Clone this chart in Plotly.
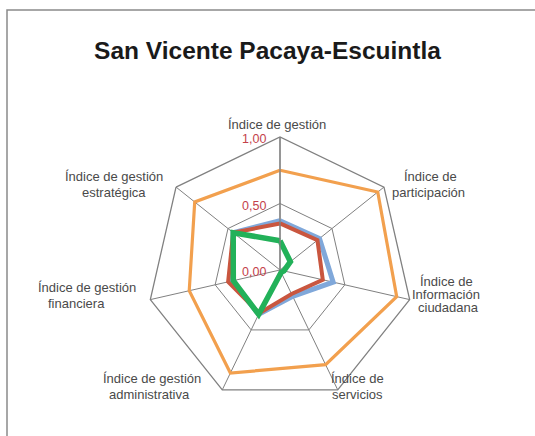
import plotly.graph_objects as go

categories = [
    "Índice de gestión",
    "Índice de participación",
    "Índice de Información ciudadana",
    "Índice de servicios",
    "Índice de gestión administrativa",
    "Índice de gestión financiera",
    "Índice de gestión estratégica",
]

orange_vals = [0.75, 0.94, 0.90, 0.79, 0.86, 0.70, 0.82]
blue_vals = [0.37, 0.38, 0.41, 0.22, 0.37, 0.37, 0.45]
red_vals = [0.35, 0.36, 0.33, 0.20, 0.36, 0.40, 0.45]
green_vals = [0.22, 0.10, 0.03, 0.02, 0.37, 0.36, 0.45]

radial_ticks = [0, 0.5, 1]
radial_ticktext = ["0,00", "0,50", "1,00"]

# wrapped label lines, placed like the original (pixel centre x, centre y)
label_lines = [
    ("Índice de gestión", 277, 124),
    ("Índice de", 430, 177), ("participación", 428, 193),
    ("Índice de", 446, 281), ("Información", 446, 294), ("ciudadana", 448, 307),
    ("Índice de", 357, 378), ("servicios", 357, 394),
    ("Índice de gestión", 152, 378), ("administrativa", 149, 394),
    ("Índice de gestión", 87, 287), ("financiera", 76, 303),
    ("Índice de gestión", 114, 177), ("estratégica", 114, 193),
]

series = [
    ("Máximo", orange_vals, "#F2A04E", 3.2),
    ("Promedio", blue_vals, "#80A8DA", 5),
    ("Departamento", red_vals, "#C9563F", 4),
    ("Municipio", green_vals, "#22B159", 5.5),
]

W, H = 535, 436
cx, cy, R = 280, 270, 133

fig = go.Figure()
for name, vals, color, w in series:
    fig.add_trace(go.Scatterpolar(
        r=vals + vals[:1],
        theta=categories + categories[:1],
        mode="lines",
        name=name,
        line=dict(color=color, width=w),
    ))

annotations = []
for txt, x, y in label_lines:
    annotations.append(dict(text=txt, x=x / W, y=1 - y / H, xref="paper", yref="paper",
                            xanchor="center", yanchor="middle", showarrow=False,
                            font=dict(size=13, color="#4a4a4a")))
# radial tick labels, right-aligned left of the vertical spoke
for v, t in zip(radial_ticks, radial_ticktext):
    annotations.append(dict(text=t, x=(cx - 12) / W, y=1 - (cy - v * R + 2) / H,
                            xref="paper", yref="paper", xanchor="right", yanchor="middle",
                            showarrow=False, font=dict(size=12.5, color="#C4414B")))

fig.update_layout(
    width=W, height=H,
    paper_bgcolor="white",
    margin=dict(l=0, r=0, t=0, b=0),
    showlegend=False,
    font=dict(family="Liberation Sans, Arial", color="#3a3a3a", size=12),
    title=dict(text="<b>San Vicente Pacaya-Escuintla</b>",
               font=dict(size=24.5, color="#1a1a1a"),
               x=0.5, xanchor="center", y=1 - 50 / H, yanchor="middle"),
    polar=dict(
        domain=dict(x=[(cx - R) / W, (cx + R) / W],
                    y=[(H - cy - R) / H, (H - cy + R) / H]),
        bgcolor="white",
        gridshape="linear",
        radialaxis=dict(
            range=[0, 1],
            tickvals=radial_ticks,
            showticklabels=False,
            angle=90,
            showline=True, linecolor="#808080", linewidth=1.3,
            gridcolor="#808080", gridwidth=1.3,
            ticks="",
        ),
        angularaxis=dict(
            direction="clockwise",
            rotation=90,
            showticklabels=False,
            showline=True, linecolor="#808080", linewidth=1.3,
            gridcolor="#808080", gridwidth=1.3,
            ticks="",
        ),
    ),
    annotations=annotations,
    shapes=[dict(type="rect", xref="paper", yref="paper",
                 x0=7 / W, x1=1.05, y0=-0.05, y1=1 - 10 / H,
                 line=dict(color="#8a8a8a", width=1.5))],
)

fig.write_html("out.html", config={"displayModeBar": False},
               post_script="document.body.style.margin='0';")
